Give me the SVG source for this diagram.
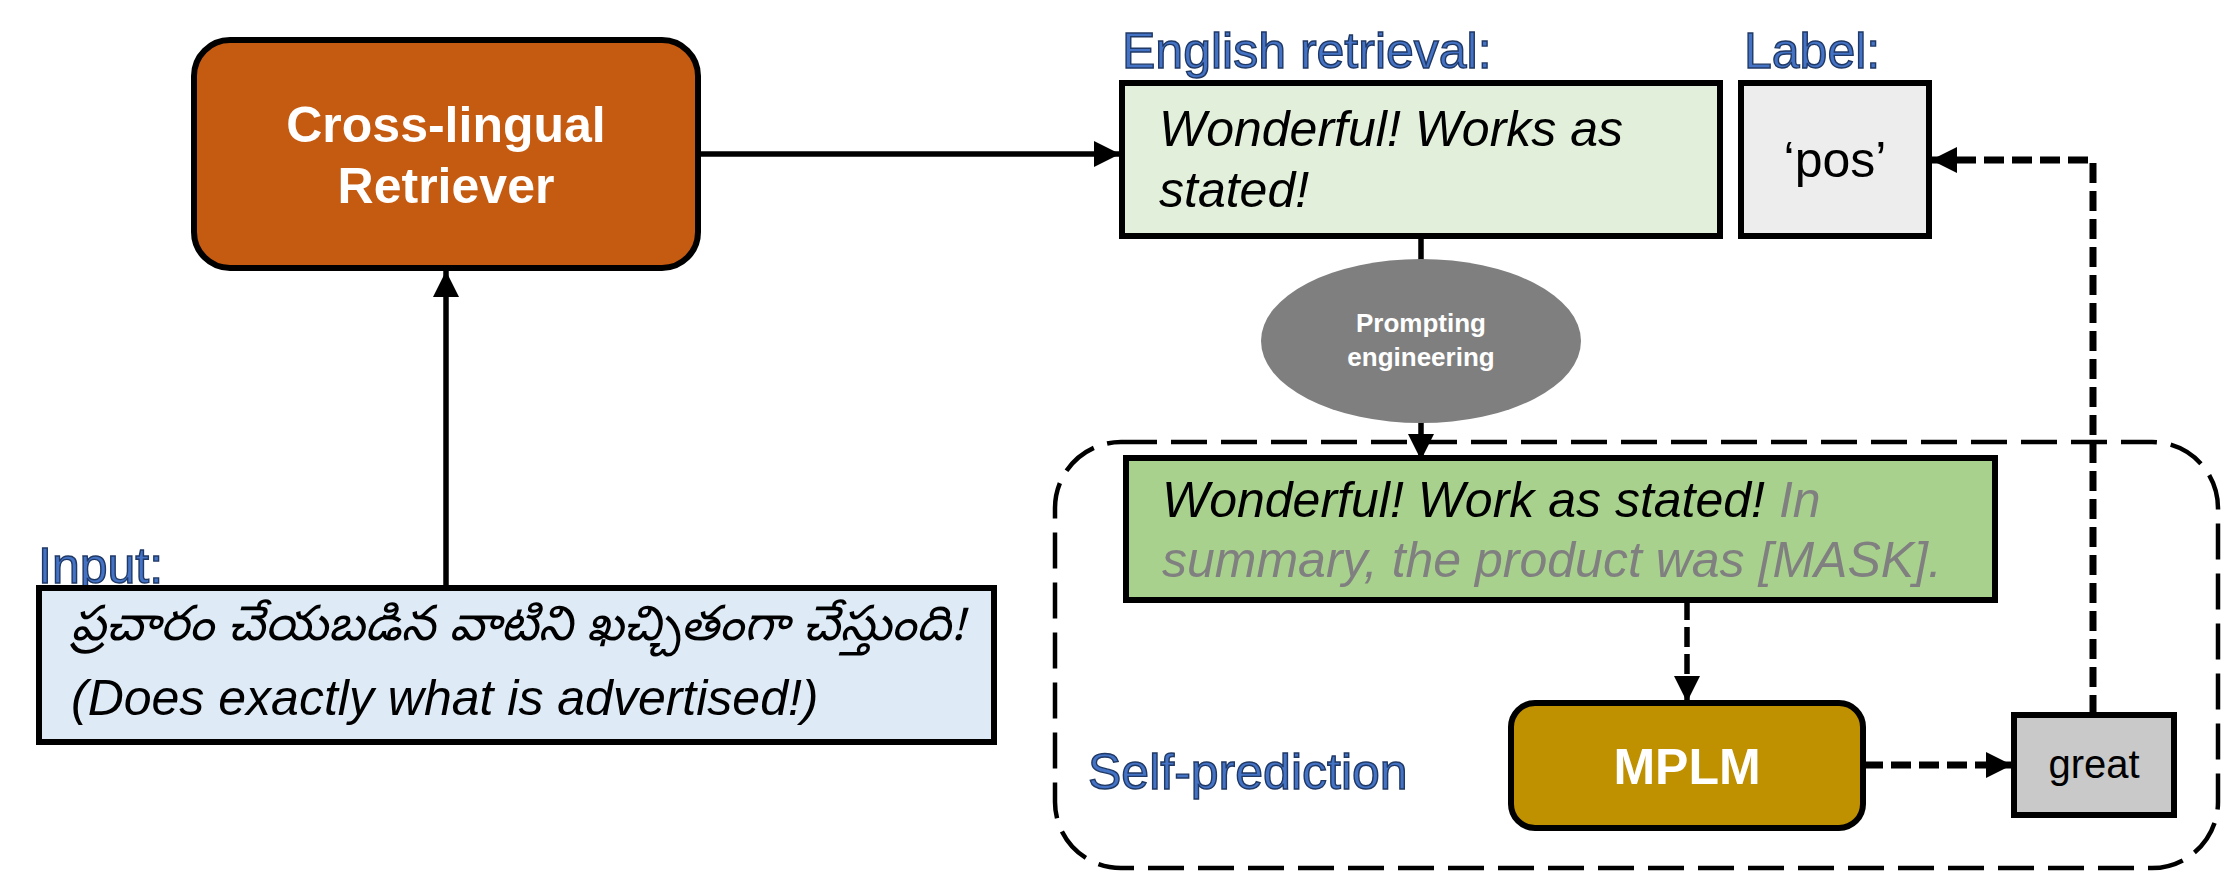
<svg xmlns="http://www.w3.org/2000/svg" width="2236" height="875" viewBox="0 0 2236 875">
<defs>
<style>
text{font-family:"Liberation Sans",Arial,sans-serif;}
.lbl{font-size:50px;fill:#4472C4;stroke:#1F3864;stroke-width:1.4px;}
.box{stroke:#000;stroke-width:6;}
.t50{font-size:50px;fill:#000;}
.it{font-style:italic;}
.wb{font-weight:bold;fill:#fff;}
.solid{fill:none;stroke:#000;stroke-width:5.5;}
.dash{fill:none;stroke:#000;stroke-width:7;stroke-dasharray:20 8;}
</style>
<marker id="ah" markerUnits="userSpaceOnUse" markerWidth="26" markerHeight="26" refX="26" refY="13" orient="auto">
<path d="M0,0 L26,13 L0,26 z" fill="#000"/>
</marker>
</defs>
<rect width="2236" height="875" fill="#fff"/>

<g id="self-prediction-group">
<rect x="1055" y="442" width="1163" height="426" rx="66" ry="66" fill="none" stroke="#000" stroke-width="4.5" stroke-dasharray="36 14"/>
<text class="lbl" x="1088" y="789">Self-prediction</text>
</g>

<g id="connectors">
<line class="solid" x1="446" y1="588" x2="446" y2="271" marker-end="url(#ah)"/>
<line class="solid" x1="698" y1="154" x2="1120" y2="154" marker-end="url(#ah)"/>
<line class="solid" x1="1421" y1="236" x2="1421" y2="260"/>
<line class="solid" x1="1421" y1="422" x2="1421" y2="460" marker-end="url(#ah)"/>
<line fill="none" stroke="#000" stroke-width="5.5" stroke-dasharray="20 7" x1="1687" y1="600" x2="1687" y2="702" marker-end="url(#ah)"/>
<line class="dash" x1="1863" y1="765" x2="2012" y2="765" marker-end="url(#ah)"/>
<polyline class="dash" points="2093,715 2093,160 1931,160" marker-end="url(#ah)"/>
</g>

<g id="retriever">
<rect class="box" x="194" y="40" width="504" height="228" rx="36" ry="36" fill="#C55A11"/>
<text class="wb" x="446" y="142" font-size="50" text-anchor="middle">Cross-lingual</text>
<text class="wb" x="446" y="203" font-size="50" text-anchor="middle">Retriever</text>
</g>

<g id="input">
<text class="lbl" x="38" y="583">Input:</text>
<rect class="box" x="39" y="588" width="955" height="154" fill="#DEEBF7"/>
<text class="t50 it" x="71" y="640" style="font-family:'Noto Sans Telugu','Noto Serif Telugu','Lohit Telugu','Gautami','Liberation Sans',sans-serif;font-size:49px">ప్రచారం చేయబడిన వాటిని ఖచ్చితంగా చేస్తుంది!</text>
<text class="t50 it" x="71" y="715">(Does exactly what is advertised!)</text>
</g>

<g id="english-retrieval">
<text class="lbl" x="1122" y="68">English retrieval:</text>
<rect class="box" x="1122" y="83" width="598" height="153" fill="#E2EFDA"/>
<text class="t50 it" x="1159" y="146">Wonderful! Works as</text>
<text class="t50 it" x="1159" y="207">stated!</text>
</g>

<g id="label">
<text class="lbl" x="1744" y="68">Label:</text>
<rect class="box" x="1741" y="83" width="188" height="153" fill="#EDEDED"/>
<text class="t50" x="1835" y="177" text-anchor="middle">‘pos’</text>
</g>

<g id="prompting">
<ellipse cx="1421" cy="341" rx="160" ry="82" fill="#7F7F7F"/>
<text class="wb" x="1421" y="332" font-size="26" text-anchor="middle">Prompting</text>
<text class="wb" x="1421" y="366" font-size="26" text-anchor="middle">engineering</text>
</g>

<g id="prompt-text">
<rect class="box" x="1126" y="458" width="869" height="142" fill="#A9D18E"/>
<text class="t50 it" x="1162" y="517">Wonderful! Work as stated! <tspan fill="#808080">In</tspan></text>
<text class="t50 it" x="1162" y="577" style="fill:#808080">summary, the product was [MASK].</text>
</g>

<g id="mplm">
<rect class="box" x="1511" y="703" width="352" height="125" rx="24" ry="24" fill="#BF9000"/>
<text class="wb" x="1687" y="784" font-size="50" text-anchor="middle">MPLM</text>
</g>

<g id="great">
<rect class="box" x="2014" y="715" width="160" height="100" fill="#C9C9C9"/>
<text x="2094" y="778" font-size="40" fill="#000" text-anchor="middle">great</text>
</g>
</svg>
